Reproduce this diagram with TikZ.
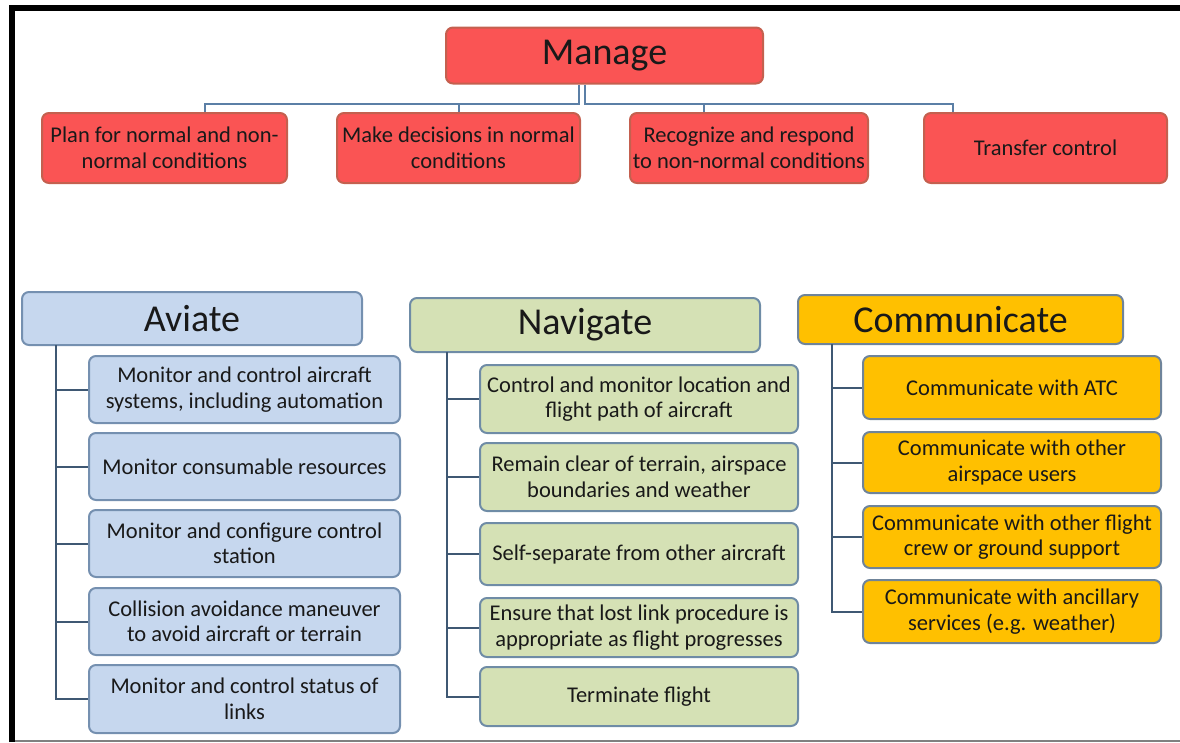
\documentclass[tikz,border=0pt]{standalone}
\usepackage{fontspec}
\setmainfont{Carlito}
\usepackage{xcolor}
\usepackage{tikz}
\usetikzlibrary{positioning}

\definecolor{mgfill}{HTML}{FA5454}
\definecolor{mgdraw}{HTML}{C4604F}
\definecolor{avfill}{HTML}{C6D7EE}
\definecolor{avdraw}{HTML}{7590B0}
\definecolor{nvfill}{HTML}{D5E1B5}
\definecolor{nvdraw}{HTML}{6F8CA6}
\definecolor{cmfill}{HTML}{FFC000}
\definecolor{cmdraw}{HTML}{6F849A}
\definecolor{toplinkc}{HTML}{5B7FA6}
\definecolor{treelinkc}{HTML}{3F5873}

\begin{document}
\begin{tikzpicture}[
    x=1pt, y=-1pt,
    box/.style={rectangle, rounded corners=7pt, draw, line width=2pt, align=center, inner sep=2pt, text=black!90, font=\fontsize{22.5}{25.5}\selectfont},
    head/.style={box, font=\fontsize{38}{42}\selectfont},
    mgbox/.style={box, fill=mgfill, draw=mgdraw, minimum height=70},
    avbox/.style={box, fill=avfill, draw=avdraw, minimum width=311, minimum height=67},
    nvbox/.style={box, fill=nvfill, draw=nvdraw, minimum width=318},
    cmbox/.style={box, fill=cmfill, draw=cmdraw, minimum width=298},
    toplink/.style={draw=toplinkc, line width=2.2pt},
    treelink/.style={draw=treelinkc, line width=2pt}
]
\useasboundingbox (0,0) rectangle (1180,742);

% frame
\draw[line width=6pt] (12,742) -- (12,8) -- (1180,8);
\draw[gray, line width=1.5pt] (15,741) -- (1180,741);

% Manage
\node[head, fill=mgfill, draw=mgdraw, minimum width=317, minimum height=56] (manage) at (604.5,55.5) {Manage};

\node[mgbox, minimum width=245] (plan) at (164.5,148) {Plan for normal and non-\\normal conditions};
\node[mgbox, minimum width=243] (decide) at (458.5,148) {Make decisions in normal\\conditions};
\node[mgbox, minimum width=238] (respond) at (749,148) {Recognize and respond\\to non-normal conditions};
\node[mgbox, minimum width=243] (transfer) at (1045.5,148) {Transfer control};

\coordinate (busl) at (579,104);
\coordinate (busr) at (585,104);
\draw[toplink] (manage.south -| busl) -- (busl) -| (plan.north -| 205,0);
\draw[toplink] (busl) -| (decide.north -| 459,0);
\draw[toplink] (manage.south -| busr) -- (busr) -| (respond.north -| 704,0);
\draw[toplink] (busr) -| (transfer.north -| 953,0);

% Aviate
\node[head, fill=avfill, draw=avdraw, minimum width=340, minimum height=53] (aviate) at (192,318.5) {Aviate};

\node[avbox] (av1) at (244.5,389.5) {Monitor and control aircraft\\systems, including automation};
\node[avbox] (av2) at (244.5,466.5) {Monitor consumable resources};
\node[avbox] (av3) at (244.5,543.5) {Monitor and configure control\\station};
\node[avbox] (av4) at (244.5,621.5) {Collision avoidance maneuver\\to avoid aircraft or terrain};
\node[avbox, minimum height=68] (av5) at (244.5,699) {Monitor and control status of\\links};

\coordinate (avtrunk) at (56,345);
\foreach \n in {av1,av2,av3,av4,av5}
    \draw[treelink] (avtrunk) |- (\n.west);

% Navigate
\node[head, fill=nvfill, draw=nvdraw, minimum width=350, minimum height=54] (navigate) at (585,325) {Navigate};

\node[nvbox, minimum height=68] (nv1) at (639,399) {Control and monitor location and\\flight path of aircraft};
\node[nvbox, minimum height=68] (nv2) at (639,477) {Remain clear of terrain, airspace\\boundaries and weather};
\node[nvbox, minimum height=62] (nv3) at (639,554) {Self-separate from other aircraft};
\node[nvbox, minimum height=59] (nv4) at (639,627.5) {Ensure that lost link procedure is\\appropriate as flight progresses};
\node[nvbox, minimum height=59] (nv5) at (639,696.5) {Terminate flight};

\coordinate (nvtrunk) at (447,352);
\foreach \n in {nv1,nv2,nv3,nv4,nv5}
    \draw[treelink] (nvtrunk) |- (\n.west);

% Communicate
\node[head, fill=cmfill, draw=cmdraw, minimum width=325, minimum height=49] (communicate) at (960.5,319.5) {Communicate};

\node[cmbox, minimum height=63] (cm1) at (1012,387.5) {Communicate with ATC};
\node[cmbox, minimum height=61] (cm2) at (1012,462.5) {Communicate with other\\airspace users};
\node[cmbox, minimum height=62] (cm3) at (1012,537) {Communicate with other flight\\crew or ground support};
\node[cmbox, minimum height=63] (cm4) at (1012,611.5) {Communicate with ancillary\\services (e.g. weather)};

\coordinate (cmtrunk) at (832,344);
\foreach \n in {cm1,cm2,cm3,cm4}
    \draw[treelink] (cmtrunk) |- (\n.west);

\end{tikzpicture}
\end{document}
